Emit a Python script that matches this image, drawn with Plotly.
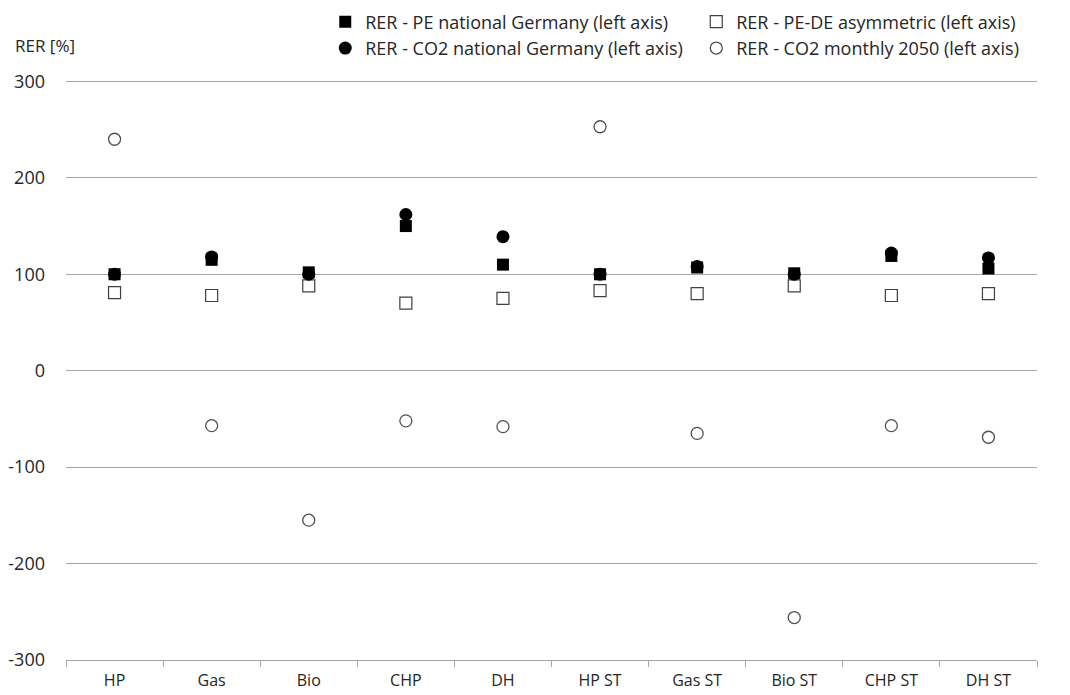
import plotly.graph_objects as go

categories = ["HP", "Gas", "Bio", "CHP", "DH", "HP ST", "Gas ST", "Bio ST", "CHP ST", "DH ST"]
pe_national = [100, 115, 102, 150, 110, 100, 107, 101, 119, 106]
pe_de_asym = [81, 78, 88, 70, 75, 83, 80, 88, 78, 80]
co2_national = [100, 118, 100, 162, 139, 100, 108, 100, 122, 117]
co2_monthly_2050 = [240, -57, -155, -52, -58, 253, -65, -256, -57, -69]
y_ticks = [-300, -200, -100, 0, 100, 200, 300]
y_ticktext = [str(v) for v in y_ticks]

FONT = "Open Sans"
TXT = "#262626"
GRID = "#a6a6a6"
fig = go.Figure()
fig.add_trace(go.Scatter(x=categories, y=pe_national, mode="markers",
                         name="RER - PE national Germany (left axis)",
                         marker=dict(symbol="square", size=12, color="black")))
fig.add_trace(go.Scatter(x=categories, y=pe_de_asym, mode="markers",
                         name="RER - PE-DE asymmetric (left axis)",
                         marker=dict(symbol="square", size=12, color="white",
                                     line=dict(color="#404040", width=1.2))))
fig.add_trace(go.Scatter(x=categories, y=co2_national, mode="markers",
                         name="RER - CO2 national Germany (left axis)",
                         marker=dict(symbol="circle", size=13, color="black")))
fig.add_trace(go.Scatter(x=categories, y=co2_monthly_2050, mode="markers",
                         name="RER - CO2 monthly 2050 (left axis)",
                         marker=dict(symbol="circle", size=12, color="white",
                                     line=dict(color="#505050", width=1.3))))

fig.update_layout(
    width=1070, height=695,
    paper_bgcolor="white", plot_bgcolor="white",
    margin=dict(l=66, r=33, t=79, b=35, autoexpand=False),
    font=dict(family=FONT, size=16, color=TXT),
    showlegend=True,
    legend=dict(orientation="h", x=0.267, xanchor="left", y=1.13, yanchor="top",
                entrywidth=326, font=dict(size=18, color=TXT),
                itemwidth=30, tracegroupgap=0, bgcolor="rgba(0,0,0,0)"),
    xaxis=dict(type="category", categoryorder="array", categoryarray=categories,
               range=[-0.5, len(categories) - 0.5],
               showgrid=False, showline=True, linecolor=GRID, linewidth=1,
               ticks="outside", tickson="boundaries", ticklen=6, tickcolor=GRID,
               tickfont=dict(size=16, color=TXT), ticklabelstandoff=6),
    yaxis=dict(range=[-300, 302.5], tickvals=y_ticks, ticktext=y_ticktext,
               showgrid=True, gridcolor=GRID,
               gridwidth=1, zeroline=False, showline=False, ticks="",
               tickfont=dict(size=18, color=TXT), ticklabelstandoff=20),
    annotations=[dict(text="RER [%]", x=0, xref="paper", xanchor="left", xshift=-53,
                      y=1, yref="paper", yanchor="bottom", yshift=20, showarrow=False,
                      font=dict(size=17, color=TXT))],
)

fig.write_html("out.html", config={"displayModeBar": False},
               post_script="document.body.style.margin='0';document.body.style.padding='0';")
